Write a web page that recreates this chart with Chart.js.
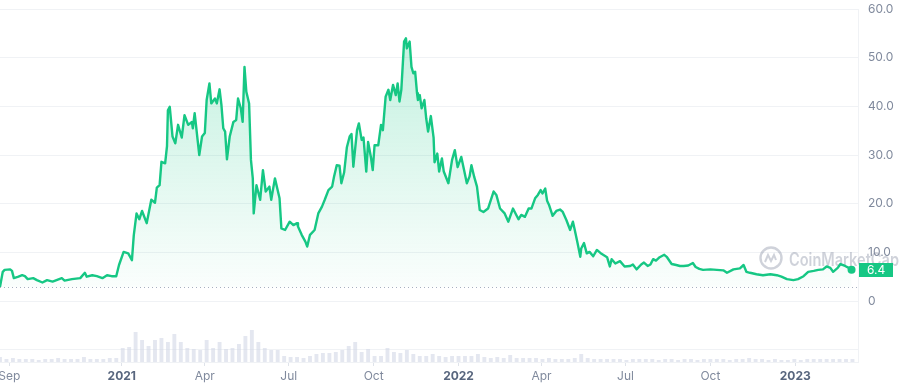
<!DOCTYPE html>
<html>
<head>
<meta charset="utf-8">
<script src="https://cdn.jsdelivr.net/npm/chart.js"></script>
<style>
  html, body { margin: 0; padding: 0; background: #fff; }
</style>
</head>
<body>
<canvas id="priceChart" width="900" height="388"></canvas>
<script>
"use strict";

// Price trace (USD)
const priceDates = [
  "2020-08-22","2020-08-25","2020-08-27","2020-09-02","2020-09-04","2020-09-06","2020-09-11","2020-09-15","2020-09-18","2020-09-21",
  "2020-09-27","2020-10-01","2020-10-07","2020-10-12","2020-10-18","2020-10-28","2020-10-31","2020-11-08","2020-11-17","2020-11-22",
  "2020-11-24","2020-11-30","2020-12-05","2020-12-11","2020-12-16","2020-12-21","2020-12-26","2020-12-29","2021-01-03","2021-01-08",
  "2021-01-12","2021-01-14","2021-01-17","2021-01-20","2021-01-23","2021-01-28","2021-02-02","2021-02-06","2021-02-08","2021-02-11",
  "2021-02-13","2021-02-17","2021-02-19","2021-02-20","2021-02-22","2021-02-25","2021-02-28","2021-03-03","2021-03-07","2021-03-10",
  "2021-03-14","2021-03-18","2021-03-19","2021-03-21","2021-03-26","2021-03-29","2021-04-01","2021-04-03","2021-04-06","2021-04-08",
  "2021-04-12","2021-04-14","2021-04-17","2021-04-19","2021-04-21","2021-04-23","2021-04-25","2021-04-28","2021-05-02","2021-05-05",
  "2021-05-07","2021-05-10","2021-05-12","2021-05-14","2021-05-16","2021-05-19","2021-05-21","2021-05-23","2021-05-24","2021-05-27",
  "2021-05-31","2021-06-03","2021-06-06","2021-06-10","2021-06-12","2021-06-16","2021-06-21","2021-06-23","2021-06-27","2021-07-02",
  "2021-07-06","2021-07-10","2021-07-11","2021-07-15","2021-07-19","2021-07-21","2021-07-24","2021-07-29","2021-08-02","2021-08-06",
  "2021-08-09","2021-08-13","2021-08-17","2021-08-19","2021-08-22","2021-08-25","2021-08-27","2021-08-30","2021-09-02","2021-09-05",
  "2021-09-07","2021-09-09","2021-09-13","2021-09-15","2021-09-18","2021-09-20","2021-09-23","2021-09-25","2021-09-28","2021-09-30",
  "2021-10-02","2021-10-06","2021-10-09","2021-10-11","2021-10-14","2021-10-17","2021-10-19","2021-10-22","2021-10-25","2021-10-27",
  "2021-10-29","2021-10-31","2021-11-03","2021-11-05","2021-11-06","2021-11-09","2021-11-11","2021-11-13","2021-11-15","2021-11-17",
  "2021-11-18","2021-11-20","2021-11-22","2021-11-25","2021-11-27","2021-11-29","2021-12-02","2021-12-05","2021-12-06","2021-12-09",
  "2021-12-11","2021-12-14","2021-12-16","2021-12-21","2021-12-25","2021-12-28","2021-12-31","2022-01-04","2022-01-07","2022-01-10",
  "2022-01-13","2022-01-15","2022-01-18","2022-01-21","2022-01-24","2022-01-28","2022-02-02","2022-02-08","2022-02-11","2022-02-15",
  "2022-02-20","2022-02-24","2022-03-01","2022-03-07","2022-03-10","2022-03-14","2022-03-18","2022-03-21","2022-03-25","2022-03-28",
  "2022-03-31","2022-04-02","2022-04-05","2022-04-07","2022-04-09","2022-04-13","2022-04-17","2022-04-21","2022-04-24","2022-04-28",
  "2022-05-02","2022-05-05","2022-05-07","2022-05-10","2022-05-13","2022-05-14","2022-05-17","2022-05-20","2022-05-23","2022-05-27",
  "2022-05-31","2022-06-05","2022-06-11","2022-06-14","2022-06-16","2022-06-20","2022-06-25","2022-06-30","2022-07-06","2022-07-09",
  "2022-07-13","2022-07-18","2022-07-21","2022-07-25","2022-07-28","2022-07-31","2022-08-03","2022-08-07","2022-08-12","2022-08-15",
  "2022-08-20","2022-08-25","2022-08-29","2022-09-02","2022-09-07","2022-09-12","2022-09-15","2022-09-19","2022-09-23","2022-10-01",
  "2022-10-08","2022-10-15","2022-10-19","2022-10-26","2022-11-02","2022-11-06","2022-11-09","2022-11-13","2022-11-20","2022-11-27",
  "2022-12-05","2022-12-12","2022-12-17","2022-12-23","2022-12-30","2023-01-04","2023-01-10","2023-01-15","2023-01-21","2023-01-26",
  "2023-01-31","2023-02-04","2023-02-08","2023-02-11","2023-02-16","2023-02-19","2023-02-24","2023-02-28","2023-03-03"
];
const prices = [
  2.9, 6.0, 6.4, 6.5, 6.2, 4.7, 5.0, 5.3, 5.1, 4.5,
  4.7, 4.3, 3.8, 4.3, 4.0, 4.7, 4.2, 4.5, 4.7, 5.8,
  5.0, 5.3, 5.1, 4.7, 5.3, 5.1, 5.1, 7.4, 10.1, 9.8,
  8.4, 13.5, 18.0, 16.8, 18.5, 16.0, 20.8, 20.2, 23.3, 23.8,
  28.6, 28.3, 31.8, 39.2, 39.9, 33.8, 32.4, 36.2, 33.6, 38.2,
  36.2, 36.8, 35.5, 38.6, 30.0, 33.8, 34.5, 41.3, 44.7, 40.6,
  41.6, 40.6, 43.5, 40.3, 35.5, 34.8, 29.1, 33.8, 36.8, 37.2,
  41.6, 39.6, 36.8, 48.1, 43.0, 40.6, 29.0, 25.2, 18.0, 23.8,
  20.8, 26.9, 22.5, 23.5, 20.8, 25.2, 21.1, 14.9, 14.6, 16.3,
  15.6, 16.0, 15.3, 13.6, 12.2, 11.2, 13.6, 14.6, 18.0, 19.4,
  20.8, 22.8, 23.5, 25.5, 27.9, 27.8, 24.2, 26.4, 31.6, 33.8,
  34.3, 27.6, 35.1, 36.5, 33.1, 33.6, 26.6, 32.7, 29.6, 26.9,
  32.0, 32.0, 36.2, 35.1, 42.0, 43.4, 41.3, 44.4, 42.3, 44.7,
  41.0, 43.4, 53.3, 54.0, 51.9, 53.3, 48.1, 46.8, 47.1, 42.7,
  41.3, 42.3, 39.6, 41.3, 37.5, 34.8, 38.0, 33.5, 28.5, 30.3,
  26.6, 29.3, 26.6, 24.2, 29.0, 31.0, 27.5, 29.6, 26.9, 24.2,
  25.6, 27.9, 25.5, 23.5, 18.7, 18.3, 19.0, 22.5, 21.8, 19.0,
  18.0, 16.3, 19.0, 16.8, 17.7, 17.3, 19.0, 19.0, 21.1, 21.8,
  22.8, 22.1, 23.1, 20.6, 19.8, 17.5, 18.5, 18.8, 18.3, 16.6,
  14.6, 16.3, 14.6, 11.9, 9.1, 10.8, 11.9, 9.8, 10.1, 9.2,
  10.5, 9.7, 9.0, 7.1, 8.6, 7.7, 8.2, 7.1, 7.2, 7.5,
  6.5, 7.5, 7.9, 7.2, 7.5, 8.6, 8.3, 9.0, 9.5, 9.0,
  7.6, 7.4, 7.2, 7.2, 7.3, 7.8, 7.0, 6.6, 6.4, 6.5,
  6.4, 6.3, 5.8, 6.5, 6.7, 7.4, 6.0, 5.8, 5.5, 5.3,
  5.5, 5.3, 5.0, 4.5, 4.3, 4.5, 5.1, 6.0, 6.2, 6.4,
  6.5, 7.1, 6.8, 6.0, 6.8, 7.6, 7.2, 6.8, 6.4
];

// Weekly traded volume (USD millions), one bar per week from volumeStart
const volumeStart = "2020-08-22";
const volumeStepDays = 7;
const volumes = [
  750, 450, 600, 450, 450, 450, 300, 450, 450, 600,
  450, 450, 450, 750, 450, 450, 450, 600, 600, 2100,
  2250, 4500, 3300, 2400, 3300, 3600, 3000, 4200, 3000, 2100,
  1950, 1800, 3300, 2100, 3000, 1950, 2100, 2700, 3900, 4800,
  3000, 2100, 1800, 1800, 900, 750, 750, 600, 900, 1200,
  1350, 1350, 1500, 1800, 2400, 3000, 1500, 1950, 900, 900,
  2100, 1500, 1350, 1800, 1200, 900, 900, 1200, 900, 750,
  900, 900, 900, 900, 1200, 750, 600, 750, 600, 1050,
  600, 600, 600, 600, 450, 600, 450, 450, 450, 600,
  1200, 600, 450, 450, 450, 450, 450, 300, 450, 450,
  450, 450, 300, 450, 450, 300, 450, 450, 300, 450,
  450, 450, 450, 300, 450, 450, 600, 450, 450, 300,
  450, 300, 300, 450, 300, 450, 450, 450, 450, 450,
  450, 450, 450
];

// Axis ticks
const priceTicks = [-10, 0, 10, 20, 30, 40, 50, 60];
const monthTickDates = ["2020-09-01", "2021-01-01", "2021-04-01", "2021-07-01", "2021-10-01",
                        "2022-01-01", "2022-04-01", "2022-07-01", "2022-10-01", "2023-01-01"];
const monthTickLabels = ["Sep", "2021", "Apr", "Jul", "Oct", "2022", "Apr", "Jul", "Oct", "2023"];

const GREEN = "#16c784";
const TEXT_GREY = "#808a9d";
const GRID = "#f0f2f5";
const FONT = "Inter, 'Noto Sans', sans-serif";

// days since 2021-01-01
function DayOf(iso) {
    return (Date.parse(iso) - Date.parse("2021-01-01")) / 86400000;
}

const pricePoints = priceDates.map((d, i) => ({ x: DayOf(d), y: prices[i] }));
const volumePoints = volumes.map((v, i) => ({ x: DayOf(volumeStart) + i * volumeStepDays, y: v }));
const lastIndex = prices.length - 1;

// Dotted line at the opening price
const openingLine = {
    id: "openingLine",
    beforeDatasetsDraw(chart) {
        const { ctx, chartArea } = chart;
        const y = Math.round(chart.scales.y.getPixelForValue(prices[0])) + 0.5;
        ctx.save();
        ctx.strokeStyle = "#a7b0c0";
        ctx.lineWidth = 1;
        ctx.setLineDash([1, 3]);
        ctx.beginPath();
        ctx.moveTo(chartArea.left, y);
        ctx.lineTo(chartArea.right, y);
        ctx.stroke();
        ctx.restore();
    }
};

// Faint site watermark
const watermark = {
    id: "watermark",
    beforeDatasetsDraw(chart) {
        const { ctx } = chart;
        const cx = 771, cy = 258;
        ctx.save();
        ctx.strokeStyle = "rgba(128,138,157,0.38)";
        ctx.fillStyle = "rgba(128,138,157,0.38)";
        ctx.lineWidth = 2.4;
        ctx.beginPath();
        ctx.arc(cx, cy, 10.5, 0, Math.PI * 2);
        ctx.stroke();
        ctx.lineWidth = 2;
        ctx.beginPath();
        ctx.moveTo(cx - 6, cy + 4);
        ctx.lineTo(cx - 3, cy - 3);
        ctx.lineTo(cx, cy + 3);
        ctx.lineTo(cx + 3, cy - 3);
        ctx.lineTo(cx + 5, cy + 2);
        ctx.stroke();
        ctx.font = "600 18px " + FONT;
        ctx.textBaseline = "alphabetic";
        ctx.fillText("CoinMarketCap", 789, 266, 110);
        ctx.restore();
    }
};

// Last price badge on the axis
const lastPriceBadge = {
    id: "lastPriceBadge",
    afterDraw(chart) {
        const { ctx, chartArea } = chart;
        const y = chart.scales.y.getPixelForValue(prices[lastIndex]);
        ctx.save();
        ctx.fillStyle = GREEN;
        ctx.fillRect(chartArea.right + 1, Math.round(y - 7), 34, 14);
        ctx.fillStyle = "#ffffff";
        ctx.font = "12px " + FONT;
        ctx.textBaseline = "middle";
        ctx.fillText(prices[lastIndex].toFixed(1), chartArea.right + 9, y + 0.5);
        ctx.restore();
    }
};

new Chart(document.getElementById("priceChart"), {
    data: {
        datasets: [
            {
                type: "line",
                data: pricePoints,
                yAxisID: "y",
                borderColor: GREEN,
                borderWidth: 2.4,
                borderJoinStyle: "round",
                tension: 0,
                pointRadius: (c) => c.dataIndex === lastIndex ? 4 : 0,
                pointBackgroundColor: GREEN,
                pointBorderWidth: 0,
                fill: { value: prices[0] },
                backgroundColor: (c) => {
                    const area = c.chart.chartArea;
                    if (!area) return "rgba(22,199,132,0.1)";
                    const base = c.chart.scales.y.getPixelForValue(prices[0]);
                    const g = c.chart.ctx.createLinearGradient(0, area.top + 30, 0, base);
                    g.addColorStop(0, "rgba(22,199,132,0.26)");
                    g.addColorStop(1, "rgba(22,199,132,0.02)");
                    return g;
                },
                order: 1
            },
            {
                type: "bar",
                data: volumePoints,
                yAxisID: "v",
                backgroundColor: "rgba(210,215,230,0.6)",
                barPercentage: 0.6,
                categoryPercentage: 1,
                order: 2
            }
        ]
    },
    options: {
        responsive: false,
        animation: false,
        layout: { autoPadding: false, padding: { top: 9, left: 0, right: 0, bottom: 0 } },
        plugins: {
            legend: { display: false },
            tooltip: { enabled: false }
        },
        scales: {
            x: {
                type: "linear",
                offset: false,
                min: DayOf(priceDates[0]),
                max: 798,
                afterBuildTicks: (axis) => {
                    axis.ticks = monthTickDates.map(d => ({ value: DayOf(d) }));
                },
                afterFit: (axis) => {
                    axis.height = 26;
                    axis.paddingLeft = 0;
                    axis.paddingRight = 0;
                },
                grid: { display: true, offset: false, drawOnChartArea: false, drawTicks: true, tickLength: 4, color: "#dfe3ea" },
                border: { display: true, color: GRID },
                ticks: {
                    autoSkip: false,
                    maxRotation: 0,
                    padding: 3,
                    callback: (v, i) => monthTickLabels[i],
                    color: (c) => monthTickLabels[c.index] && monthTickLabels[c.index].startsWith("20") ? "#58667e" : TEXT_GREY,
                    font: (c) => ({
                        family: FONT,
                        size: 12,
                        weight: monthTickLabels[c.index] && monthTickLabels[c.index].startsWith("20") ? "700" : "400"
                    })
                }
            },
            y: {
                type: "linear",
                position: "right",
                min: -12.53,
                max: 60,
                afterBuildTicks: (axis) => {
                    axis.ticks = priceTicks.map(v => ({ value: v }));
                },
                afterFit: (axis) => {
                    axis.width = 42;
                    axis.paddingTop = 0;
                    axis.paddingBottom = 0;
                },
                grid: { color: GRID, drawTicks: false },
                border: { display: true, color: GRID },
                ticks: {
                    padding: 10,
                    color: TEXT_GREY,
                    font: { family: FONT, size: 12 },
                    callback: (v) => v < 0 ? "" : (v === 0 ? "0" : v.toFixed(1))
                }
            },
            v: {
                type: "linear",
                display: false,
                min: 0,
                max: 52950
            }
        }
    },
    plugins: [openingLine, watermark, lastPriceBadge]
});
</script>
</body>
</html>
